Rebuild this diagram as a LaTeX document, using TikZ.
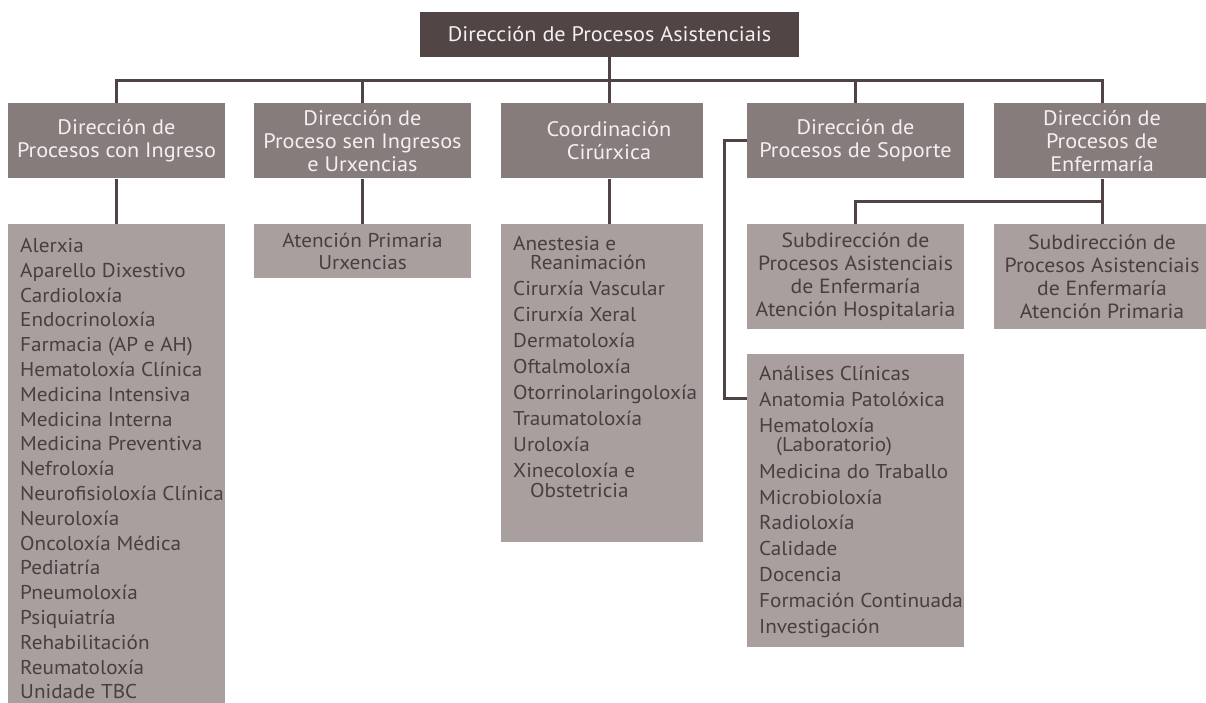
\documentclass[tikz,border=0pt]{standalone}
\usepackage{fontspec}
\setmainfont{PT Sans}[FakeStretch=1.06]
\usepackage{tikz}
\usetikzlibrary{positioning}
\definecolor{topbrown}{HTML}{524545}
\definecolor{headgrey}{HTML}{877C7C}
\definecolor{listgrey}{HTML}{A99F9F}
\definecolor{linkbrown}{HTML}{4F4343}
\definecolor{listink}{HTML}{4A3E3F}
\definecolor{headink}{HTML}{F4F0F0}
\tikzset{topbox/.style = {fill=topbrown, text=headink, inner sep=0,
                          minimum width=379, minimum height=45,
                          font=\fontsize{21}{23}\selectfont},
         headbox/.style = {fill=headgrey, text=headink, inner sep=0,
                           minimum height=75.5, align=center,
                           font=\fontsize{21}{23}\selectfont},
         listbox/.style = {fill=listgrey, inner sep=0, anchor=north west},
         subbox/.style = {fill=listgrey, text=listink, inner sep=0,
                          minimum height=105.3, align=center,
                          font=\fontsize{20.5}{23}\selectfont},
         listtext/.style = {text=listink, inner sep=0, anchor=north west, align=left},
         link/.style = {draw=linkbrown, line width=3}}

\begin{document}
\begin{tikzpicture}[x=1pt, y=-1pt]
     \useasboundingbox (0,0) rectangle (1206,703);
     \node [topbox] (top) at (609.5,34.5) {Dirección de Procesos Asistenciais};
     \node [headbox, minimum width=217] (h1) at (116.5,140.75) {Dirección de\\Procesos con Ingreso};
     \node [headbox, minimum width=217] (h2) at (362.5,140.75) {Dirección de\\Proceso sen Ingresos\\e Urxencias};
     \node [headbox, minimum width=202] (h3) at (602,140.75) {\hspace*{14pt}Coordinación\\\hspace*{14pt}Cirúrxica};
     \node [headbox, minimum width=217] (h4) at (855.5,140.75) {Dirección de\\Procesos de Soporte};
     \node [headbox, minimum width=216] (h5) at (1102,140.75) {Dirección de\\Procesos de\\Enfermaría};
     \node [listbox, minimum width=217, minimum height=496] (l1) at (8,224) {};
     \node [subbox, minimum width=217, minimum height=54.3, font=\fontsize{20}{22.3}\selectfont] (l2) at (362.5,251.15) {Atención Primaria\\Urxencias};
     \node [listbox, minimum width=202, minimum height=317.7] (l3) at (501,224) {};
     \node [subbox, minimum width=217] (s1) at (855.5,276.65) {Subdirección de\\Procesos Asistenciais\\de Enfermaría\\Atención Hospitalaria};
     \node [subbox, minimum width=216] (s2) at (1102,276.65) {Subdirección de\\Procesos Asistenciais\\de Enfermaría\\Atención Primaria};
     \node [listbox, minimum width=217, minimum height=293.4] (l4) at (747,353.3) {};
     \node [listtext, font=\fontsize{20}{24.8}\selectfont] (l1t) at ([xshift=12pt,yshift=-14pt]l1.north west)
          {Alerxia\\Aparello Dixestivo\\Cardioloxía\\Endocrinoloxía\\Farmacia (AP e AH)\\Hematoloxía Clínica\\
           Medicina Intensiva\\Medicina Interna\\Medicina Preventiva\\Nefroloxía\\Neurofisioloxía Clínica\\
           Neuroloxía\\Oncoloxía Médica\\Pediatría\\Pneumoloxía\\Psiquiatría\\Rehabilitación\\Reumatoloxía\\Unidade TBC};
     \node [listtext, font=\fontsize{20}{19.3}\selectfont] (l3t) at ([xshift=12pt,yshift=-12pt]l3.north west)
          {Anestesia e\\\hspace*{17pt}Reanimación\\[6.7pt]Cirurxía Vascular\\[6.7pt]Cirurxía Xeral\\[6.7pt]Dermatoloxía\\[6.7pt]
           Oftalmoloxía\\[6.7pt]Otorrinolaringoloxía\\[6.7pt]Traumatoloxía\\[6.7pt]Uroloxía\\[6.7pt]
           Xinecoloxía e\\\hspace*{17pt}Obstetricia};
     \node [listtext, font=\fontsize{20}{18.5}\selectfont] (l4t) at ([xshift=12pt,yshift=-13pt]l4.north west)
          {Análises Clínicas\\[7.4pt]Anatomia Patolóxica\\[7.4pt]Hematoloxía\\\hspace*{17pt}(Laboratorio)\\[7.4pt]
           Medicina do Traballo\\[7.4pt]Microbioloxía\\[7.4pt]Radioloxía\\[7.4pt]Calidade\\[7.4pt]Docencia\\[7.4pt]
           Formación Continuada\\[7.4pt]Investigación};
     \draw [link] (h1.north) -- ++(0,-22.3) -| (h5.north);
     \draw [link] (top.south) -- (top.south |- h3.north);
     \draw [link] (h2.north) -- ++(0,-22.3);
     \draw [link] (h4.north) -- ++(0,-22.3);
     \draw [link] (h1.south) -- (l1.north -| h1.south);
     \draw [link] (h2.south) -- (l2.north);
     \draw [link] (top.south |- h3.south) -- (top.south |- l3.north);
     \draw [link] (h4.west) -- ++(-22,0) |- ([yshift=-45pt]l4.north west);
     \draw [link] (h5.south) -- (s2.north);
     \draw [link] (s1.north) -- ++(0,-22.5) -| (h5.south);
    \end{tikzpicture}
\end{document}
